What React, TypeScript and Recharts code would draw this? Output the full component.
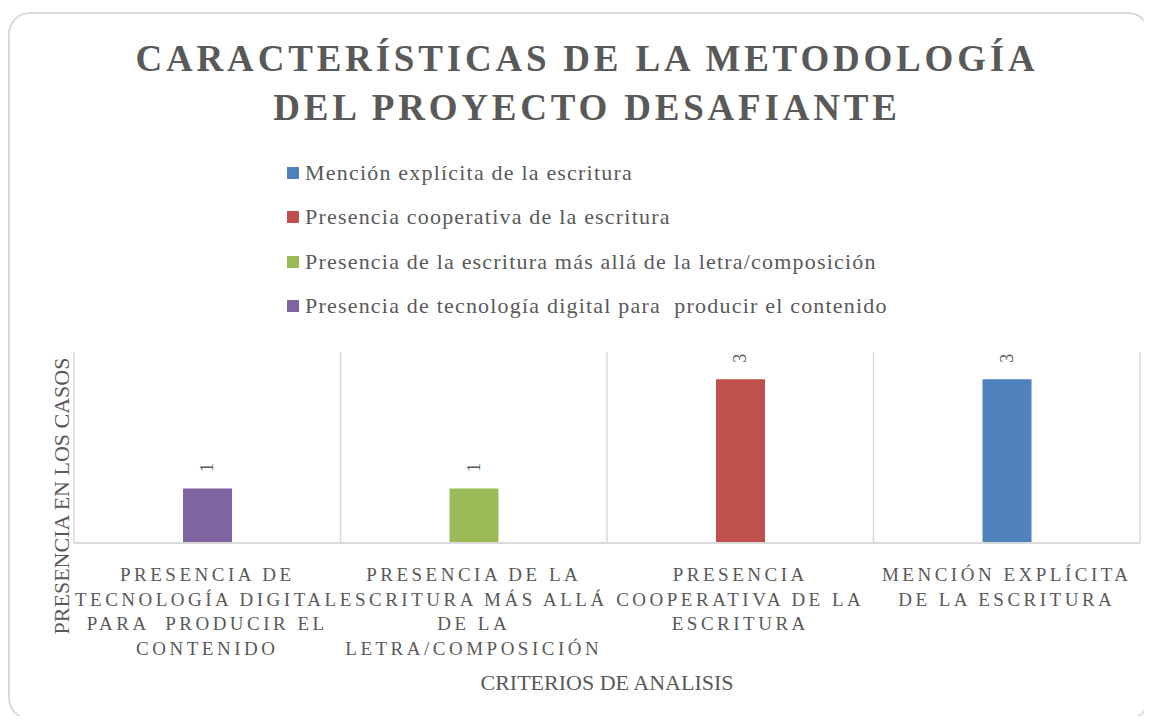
import { BarChart, Bar, XAxis, YAxis, CartesianGrid, LabelList } from 'recharts';

const categories = [
  'Presencia de tecnología digital para  producir el contenido',
  'Presencia de la escritura más allá de la letra/composición',
  'Presencia cooperativa de la escritura',
  'Mención explícita de la escritura',
];

// wrapped tick text, one list per category (as in the original)
const tickLines = [
  ['PRESENCIA DE', 'TECNOLOGÍA DIGITAL', 'PARA  PRODUCIR EL', 'CONTENIDO'],
  ['PRESENCIA DE LA', 'ESCRITURA MÁS ALLÁ', 'DE LA', 'LETRA/COMPOSICIÓN'],
  ['PRESENCIA', 'COOPERATIVA DE LA', 'ESCRITURA'],
  ['MENCIÓN EXPLÍCITA', 'DE LA ESCRITURA'],
];

const seriesKeys = ['mencion', 'cooperativa', 'masAlla', 'tecnologia'];
const seriesNames = [
  'Mención explícita de la escritura',
  'Presencia cooperativa de la escritura',
  'Presencia de la escritura más allá de la letra/composición',
  'Presencia de tecnología digital para  producir el contenido',
];
const seriesColors = ['#4F81BD', '#C0504D', '#9BBB59', '#8064A2'];

// one value per category; each series only appears in its own category
const tecnologia = [1, null, null, null];
const masAlla = [null, 1, null, null];
const cooperativa = [null, null, 3, null];
const mencion = [null, null, null, 3];

const data = categories.map((name, i) => ({
  name,
  tecnologia: tecnologia[i],
  masAlla: masAlla[i],
  cooperativa: cooperativa[i],
  mencion: mencion[i],
}));

const FONT = '"Liberation Serif", "DejaVu Serif", serif';
const TEXT = '#595959';

const W = 1142;
const H = 708;

const CategoryTick = (props: any) => {
  const { x, y, index } = props;
  const lines = tickLines[index] || [];
  return (
    <text
      x={x}
      y={y}
      textAnchor="middle"
      fill={TEXT}
      fontFamily={FONT}
      fontSize={19}
      letterSpacing={3.5}
    >
      {lines.map((l: string, i: number) => (
        <tspan key={i} x={x} dy={i === 0 ? 30 : 24.5} style={{ whiteSpace: 'pre' }}>
          {l}
        </tspan>
      ))}
    </text>
  );
};

const ValueLabel = (props: any) => {
  const { x, y, width, value } = props;
  if (value == null || value === 0) return null;
  const cx = x + width / 2;
  const cy = y - 21;
  return (
    <text
      x={cx}
      y={cy}
      transform={`rotate(-90 ${cx} ${cy})`}
      textAnchor="middle"
      dominantBaseline="central"
      fill={TEXT}
      fontFamily={FONT}
      fontSize={18}
    >
      {value}
    </text>
  );
};

const LegendBox = () => (
  <div style={{ fontFamily: FONT, fontSize: 22, color: TEXT, letterSpacing: 1.2 }}>
    {seriesNames.map((n, i) => (
      <div key={n} style={{ height: 44.3, display: 'flex', alignItems: 'center', whiteSpace: 'pre' }}>
        <span
          style={{
            display: 'inline-block',
            width: 12,
            height: 12,
            background: seriesColors[i],
            marginRight: 6,
          }}
        />
        {n}
      </div>
    ))}
  </div>
);

export default function App() {
  return (
    <div style={{ position: 'relative', top: 4, width: W, height: H }}>
      <div
        style={{
          position: 'absolute',
          left: 0,
          top: 0,
          width: W,
          height: H,
          boxSizing: 'border-box',
          border: '2px solid #d9d9d9',
          borderRadius: 22,
          background: '#fff',
        }}
      />
      <div
        style={{
          position: 'absolute',
          left: 0,
          width: 1158,
          top: 22,
          textAlign: 'center',
          fontFamily: FONT,
          fontWeight: 'bold',
          fontSize: 37,
          letterSpacing: 3.8,
          lineHeight: '49px',
          color: TEXT,
        }}
      >
        CARACTERÍSTICAS DE LA METODOLOGÍA
        <br />
        DEL PROYECTO DESAFIANTE
      </div>
      <div style={{ position: 'absolute', left: 279, top: 139 }}>
        <LegendBox />
      </div>
      <div style={{ position: 'absolute', left: 0, top: 0 }}>
        <BarChart width={W} height={H} data={data} margin={{ top: 340, right: 10, bottom: 27, left: 66 }} barSize={49}>
          <CartesianGrid
            horizontal={false}
            stroke="#d9d9d9"
            strokeWidth={1.5}
            verticalCoordinatesGenerator={({ offset }: any) =>
              [0, 1, 2, 3, 4].map((i) => offset.left + (offset.width * i) / 4)
            }
          />
          <XAxis
            dataKey="name"
            height={150}
            interval={0}
            tickLine={false}
            axisLine={{ stroke: '#d9d9d9', strokeWidth: 2 }}
            tick={<CategoryTick />}
          />
          <YAxis hide domain={[0, 3.5]} />
          {seriesKeys.map((k, i) => (
            <Bar
              key={k}
              dataKey={k}
              name={seriesNames[i]}
              stackId="a"
              fill={seriesColors[i]}
              isAnimationActive={false}
            >
              <LabelList dataKey={k} content={<ValueLabel />} />
            </Bar>
          ))}
        </BarChart>
      </div>
      <div
        style={{
          position: 'absolute',
          left: 54,
          top: 484,
          transform: 'translate(-50%, -50%) rotate(-90deg)',
          fontFamily: FONT,
          fontSize: 22,
          color: TEXT,
          whiteSpace: 'nowrap',
        }}
      >
        PRESENCIA EN LOS CASOS
      </div>
      <div
        style={{
          position: 'absolute',
          left: 599,
          top: 671,
          transform: 'translate(-50%, -50%)',
          fontFamily: FONT,
          fontSize: 22,
          color: TEXT,
          whiteSpace: 'nowrap',
        }}
      >
        CRITERIOS DE ANALISIS
      </div>
    </div>
  );
}
